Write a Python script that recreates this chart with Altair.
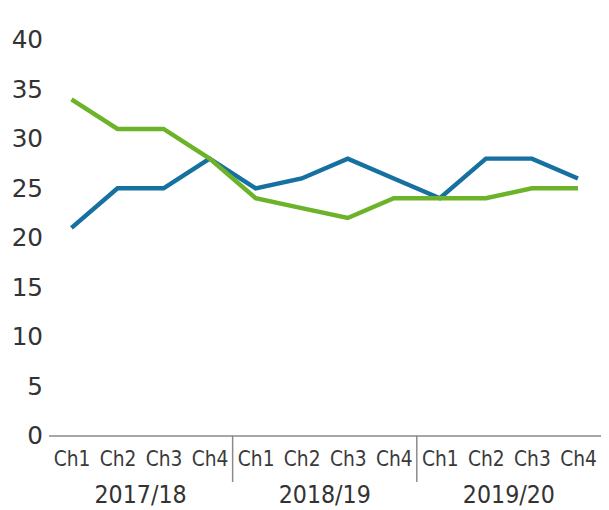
import altair as alt
import pandas as pd

years = ["2017/18", "2018/19", "2019/20"]
quarters = ["Ch1", "Ch2", "Ch3", "Ch4"]
blue_values = [21, 25, 25, 28, 25, 26, 28, 26, 24, 28, 28, 26]
green_values = [34, 31, 31, 28, 24, 23, 22, 24, 24, 24, 25, 25]
y_ticks = [0, 5, 10, 15, 20, 25, 30, 35, 40]

rows = []
for s, vals in (("blue", blue_values), ("green", green_values)):
    for i, v in enumerate(vals):
        rows.append({"idx": i, "year": years[i // 4], "q": quarters[i % 4], "series": s, "value": v})
df = pd.DataFrame(rows)

year_df = pd.DataFrame({"year": years, "pos": [i * 4 + 1.5 for i in range(len(years))]})
sep_df = pd.DataFrame({"pos": [i * 4 - 0.5 for i in range(1, len(years))]})

W, H = 560, 401
FONT = "DejaVu Sans Condensed, Liberation Sans Narrow, DejaVu Sans"

xscale = alt.Scale(domain=[-0.5, 11.5], nice=False, zero=False)

lines = alt.Chart(df).mark_line(strokeWidth=4.5, strokeJoin="miter").encode(
    x=alt.X("idx:Q", scale=xscale, title=None,
            axis=alt.Axis(values=list(range(12)), labelExpr="'Ch' + (datum.value % 4 + 1)",
                          grid=False, ticks=False, domain=True, domainColor="#8a8a8a",
                          domainWidth=1.5, labelFont=FONT, labelFontSize=21, labelColor="#3a3a3a",
                          labelPadding=13, labelFlush=False)),
    y=alt.Y("value:Q", scale=alt.Scale(domain=[0, 40], nice=False), title=None,
            axis=alt.Axis(values=y_ticks, grid=False, ticks=False, domain=False,
                          labelFont="DejaVu Sans", labelFontSize=25, labelColor="#333",
                          labelPadding=6)),
    color=alt.Color("series:N", scale=alt.Scale(domain=["blue", "green"], range=["#1670a0", "#6db32a"]),
                    legend=None),
    detail="series:N",
)

seps = alt.Chart(sep_df).mark_rule(color="#8a8a8a", strokeWidth=1.5).encode(
    x=alt.X("pos:Q", scale=xscale),
    y=alt.value(H),
    y2=alt.value(H + 47),
)

year_text = alt.Chart(year_df).mark_text(font=FONT, fontSize=25, color="#333", baseline="middle").encode(
    x=alt.X("pos:Q", scale=xscale),
    y=alt.value(H + 60),
    text="year:N",
)

chart = alt.layer(lines, seps, year_text).properties(
    width=W, height=H,
    autosize=alt.AutoSizeParams(type="none"),
    padding={"left": 41, "top": 29, "right": 0, "bottom": 72},
).configure_view(stroke=None)

chart.save("out.html", embed_options={"renderer": "svg", "actions": False})
